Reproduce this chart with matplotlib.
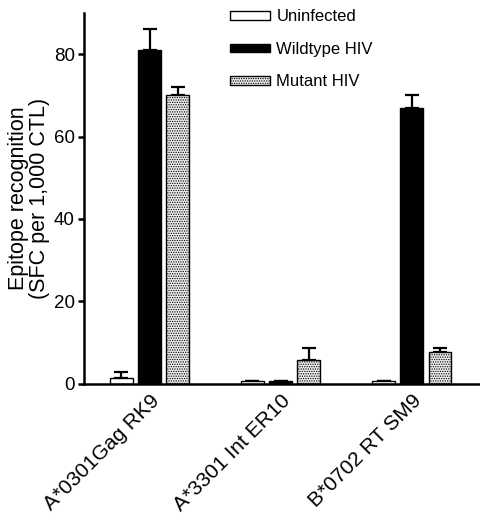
import numpy as np
import matplotlib.pyplot as plt

plt.rcParams['font.family'] = ['Liberation Sans', 'DejaVu Sans']
plt.rcParams['hatch.linewidth'] = 0.6
plt.rcParams['hatch.color'] = '#9a9a9a'

epitopes = ['A*0301Gag RK9', 'A*3301 Int ER10', 'B*0702 RT SM9']
series = ['Uninfected', 'Wildtype HIV', 'Mutant HIV']
uninfected = [1.3, 0.7, 0.7]
uninfected_err = [1.5, 0.0, 0.0]
wildtype = [81, 0.6, 67]
wildtype_err = [5, 0.0, 3]
mutant = [70, 5.8, 7.8]
mutant_err = [2, 3, 1]

fig = plt.figure(figsize=(4.8, 5.18), dpi=100)
ax = fig.add_axes([0.175, 0.259, 0.825, 0.716])

x = np.arange(len(epitopes))
width = 0.175
step = 0.215
styles = [dict(facecolor='white', hatch=None),
          dict(facecolor='black', hatch=None),
          dict(facecolor='#ececec', hatch='.......')]
vals = [uninfected, wildtype, mutant]
errs = [uninfected_err, wildtype_err, mutant_err]

for i in range(3):
    pos = x + (i - 1) * step
    ax.bar(pos, vals[i], width, color=styles[i]['facecolor'], edgecolor='black',
           linewidth=1.0, hatch=styles[i]['hatch'], label=series[i], zorder=2)
    e = np.array(errs[i])
    ax.errorbar(pos, vals[i], yerr=[np.zeros_like(e), e], fmt='none',
                ecolor='black', elinewidth=1.6, capsize=5, capthick=1.6, zorder=1)

ax.set_xlim(-0.5, 2.52)
ax.set_ylim(0, 90)
ax.set_yticks([0, 20, 40, 60, 80])
ax.set_xticks(x)
ax.set_xticklabels(epitopes, rotation=45, ha='right', va='top', rotation_mode='anchor')
ax.tick_params(axis='x', length=0, pad=5, labelsize=15)
ax.tick_params(axis='y', length=4.5, width=1.8, labelsize=13.5, pad=2)
for s in ['top', 'right']:
    ax.spines[s].set_visible(False)
for s in ['left', 'bottom']:
    ax.spines[s].set_linewidth(1.8)
ax.set_ylabel('Epitope recognition\n(SFC per 1,000 CTL)', fontsize=15.5, labelpad=3, linespacing=1.0)

leg = ax.legend(loc='upper left', bbox_to_anchor=(0.33, 1.05), frameon=False,
                fontsize=12, handlelength=2.4, handleheight=0.4,
                labelspacing=1.05, handletextpad=0.4)

fig.savefig('out.png', dpi=100)
